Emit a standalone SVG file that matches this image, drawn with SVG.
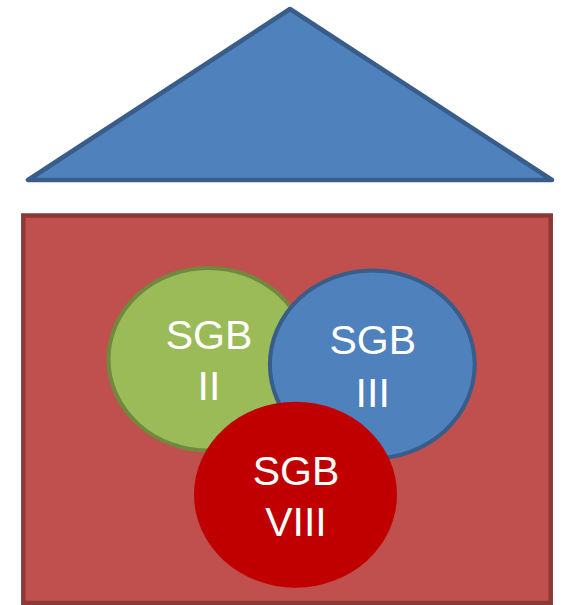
<svg xmlns="http://www.w3.org/2000/svg" width="561" height="605" viewBox="0 0 561 605">
<style>
.lbl{font-family:"Liberation Sans",Arial,sans-serif;font-size:41px;fill:#FFFFFF;text-anchor:middle}
</style>
<rect width="561" height="605" fill="#FFFFFF"/>
<g id="roof">
<polygon points="290,9 28,180 552,180" fill="#4F81BD" stroke="#385D8A" stroke-width="4.5" stroke-linejoin="round"/>
</g>
<g id="house">
<rect x="23.3" y="215.5" width="527.4" height="387.5" fill="#C0504D" stroke="#8C3836" stroke-width="4.5"/>
</g>
<g id="sgb2">
<ellipse cx="208.5" cy="359.3" rx="100" ry="91.3" fill="#9BBB59" stroke="#71893F" stroke-width="4"/>
<text class="lbl" x="209" y="349">SGB</text>
<text class="lbl" x="209" y="400">II</text>
</g>
<g id="sgb3">
<ellipse cx="372.3" cy="364.5" rx="102.4" ry="94" fill="#4F81BD" stroke="#385D8A" stroke-width="4"/>
<text class="lbl" x="372.7" y="354">SGB</text>
<text class="lbl" x="372.7" y="406.5">III</text>
</g>
<g id="sgb8">
<ellipse cx="295.5" cy="494.7" rx="101.5" ry="93" fill="#C00000"/>
<text class="lbl" x="296" y="485">SGB</text>
<text class="lbl" x="296" y="535.7">VIII</text>
</g>
<g id="connectors"></g>
</svg>
